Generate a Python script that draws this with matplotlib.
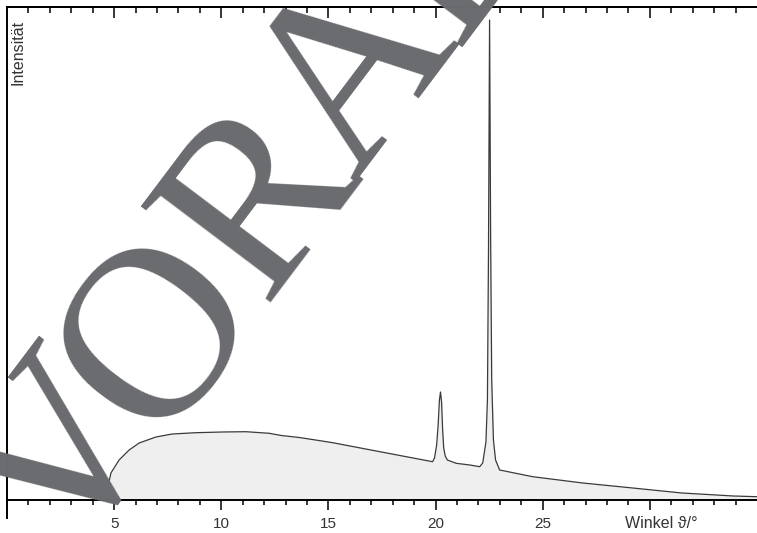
import numpy as np
import matplotlib
matplotlib.use("Agg")
import matplotlib.pyplot as plt
from matplotlib.transforms import IdentityTransform

# Diffractogram (angle in degrees, intensity in arbitrary units)
winkel = [4.60, 4.70, 4.85, 5.23, 5.70, 6.17, 6.95, 7.71, 8.82, 10.05, 11.15, 12.24,
          12.80, 13.64, 14.40, 15.20, 17.40, 19.86,
          19.95, 20.05, 20.12, 20.18, 20.23, 20.28, 20.33, 20.38, 20.45, 20.55,
          20.96, 21.60, 22.06, 22.20, 22.35, 22.42, 22.47, 22.52, 22.57, 22.62,
          22.70, 22.80, 22.99, 24.53, 26.87, 29.20, 31.50, 33.90, 35.00]
intensitaet = [0, 12, 27, 40, 50, 57, 63, 66, 67.3, 68, 68.3, 66.7,
               64.5, 62.5, 60, 57.3, 48.3, 38.3,
               42, 55, 75, 100, 108, 98, 70, 52, 44, 40,
               36.7, 35, 33.3, 37, 58, 100, 250, 480, 260, 120,
               60, 40, 30, 23.3, 17, 12, 7, 4, 3.3]

tick_lab = ['5', '10', '15', '20', '25']

W, H = 757, 533
fig = plt.figure(figsize=(W / 100, H / 100), dpi=100)
ax = fig.add_axes([7 / W, (H - 518) / H, 750 / W, 511 / H])

ax.fill_between(winkel, 0, intensitaet, color='#efefef', lw=0)
ax.plot(winkel, intensitaet, color='#3a3a3a', lw=0.9)

ax.set_xlim(0, 35)
ax.set_ylim(-18, 493)
ax.set_yticks([])

ax.spines['right'].set_visible(False)
ax.spines['bottom'].set_position(('data', 0))
for s in ['left', 'bottom', 'top']:
    ax.spines[s].set_linewidth(1.4)

ax.set_xticks(np.arange(5, 35, 5))
ax.set_xticklabels(tick_lab + [''])
ax.set_xticks(np.arange(1, 35, 1), minor=True)
ax.tick_params(axis='x', which='major', direction='out', length=7, width=1.1,
               labelsize=11, labelcolor='#333333', pad=5)
ax.tick_params(axis='x', which='minor', direction='out', length=3.5, width=1.1)
for lab in ax.get_xticklabels():
    lab.set_family('Liberation Sans')

top = ax.secondary_xaxis('top')
top.set_xticks(np.arange(5, 35, 5))
top.set_xticks(np.arange(1, 35, 1), minor=True)
top.tick_params(which='major', direction='in', length=8, width=1.1, labeltop=False)
top.tick_params(which='minor', direction='in', length=4.5, width=1.1)
top.spines['top'].set_linewidth(1.4)

fig.text(625 / W, (H - 523) / H, 'Winkel \u03d1/\u00b0', fontsize=11.5, color='#333333',
         family=['Liberation Sans', 'DejaVu Sans'], ha='left', va='center')
fig.text(18 / W, (H - 20) / H, 'Intensit\u00e4t', fontsize=11.5, color='#333333',
         family='Liberation Sans', rotation=90, ha='center', va='top')

# watermark, letters set one by one along a tilted baseline (pixel coords)
wm_angle = 53
em = 245
x0, y0 = 62, -37
bx, by = np.cos(np.radians(wm_angle)), np.sin(np.radians(wm_angle))
for ch, off in zip('VORAB', [0, 0.645, 1.364, 1.981, 2.673]):
    fig.text(x0 + off * em * bx, y0 + off * em * by, ch, transform=IdentityTransform(),
             fontsize=em * 72 / 100, family='Liberation Serif', color='#6a6b6f',
             rotation=wm_angle, rotation_mode='anchor', ha='left', va='baseline')

fig.savefig('out.png', dpi=100)
